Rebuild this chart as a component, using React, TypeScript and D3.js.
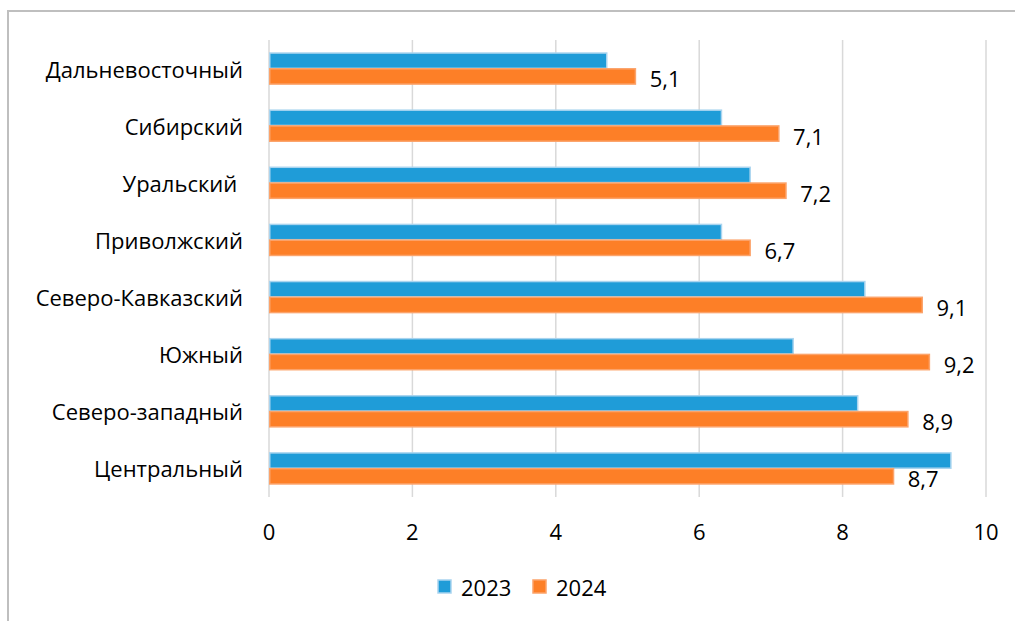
import React from "react";
import * as d3 from "d3";

const categories = [
  "Дальневосточный",
  "Сибирский",
  "Уральский ",
  "Приволжский",
  "Северо-Кавказский",
  "Южный",
  "Северо-западный",
  "Центральный",
];
const series = ["2023", "2024"];
const values2023 = [4.7, 6.3, 6.7, 6.3, 8.3, 7.3, 8.2, 9.5];
const values2024 = [5.1, 7.1, 7.2, 6.7, 9.1, 9.2, 8.9, 8.7];
const xTicks = [0, 2, 4, 6, 8, 10];

const colors = { "2023": "#1f9cd8", "2024": "#fd7f27" };
const strokes = { "2023": "#a9d4ef", "2024": "#fca36a" };

export default function App() {
  const W = 1015, H = 621;
  const left = 269, right = 986, top = 40, bottom = 497;
  const x = d3.scaleLinear().domain([0, 10]).range([left, right]);
  const y = d3.scaleBand<string>().domain(categories).range([top, bottom]).paddingInner(0.44).paddingOuter(0.22);
  const sub = d3.scaleBand<string>().domain(series).range([0, y.bandwidth()]).padding(0.03);
  const font = "'Open Sans', sans-serif";
  const fs = 22;
  const data = [values2023, values2024];
  return (
    <svg width={W} height={H} style={{ position: "absolute", left: 0, top: 0, background: "#fff" }}>
      <rect x={0} y={0} width={W} height={H} fill="#fff" />
      <path d={`M8,${H} V11 H${W}`} fill="none" stroke="#bfbfbf" strokeWidth={2} />
      {xTicks.map((t) => (
        <line key={t} x1={x(t)} x2={x(t)} y1={top} y2={bottom} stroke="#d9d9d9" strokeWidth={1.5} />
      ))}
      {categories.map((c, i) =>
        series.map((s, j) => {
          const v = data[j][i];
          return (
            <rect
              key={c + s}
              x={x(0) + 0.75}
              y={(y(c) ?? 0) + (sub(s) ?? 0)}
              width={x(v) - x(0)}
              height={sub.bandwidth()}
              fill={(colors as any)[s]}
              stroke={(strokes as any)[s]}
              strokeWidth={1.5}
            />
          );
        })
      )}
      {categories.map((c, i) => (
        <text
          key={c}
          x={243}
          y={(y(c) ?? 0) + y.bandwidth() / 2}
          textAnchor="end"
          dominantBaseline="central"
          fontFamily={font}
          fontSize={fs}
          fill="#000"
          style={{ whiteSpace: "pre" }}
          xmlSpace="preserve"
        >
          {c}
        </text>
      ))}
      {categories.map((c, i) => (
        <text
          key={c + "lbl"}
          x={x(values2024[i]) + 15}
          y={(y(c) ?? 0) + (sub("2024") ?? 0) + sub.bandwidth() / 2 + 2}
          dominantBaseline="central"
          fontFamily={font}
          fontSize={fs}
          fill="#000"
        >
          {values2024[i].toString().replace(".", ",")}
        </text>
      ))}
      {xTicks.map((t) => (
        <text key={"t" + t} x={x(t)} y={531} textAnchor="middle" dominantBaseline="central" fontFamily={font} fontSize={fs} fill="#000">
          {t}
        </text>
      ))}
      {series.map((s, j) => {
        const lx = j === 0 ? 438 : 533;
        return (
          <g key={"lg" + s}>
            <rect x={lx} y={580} width={13} height={13} fill={(colors as any)[s]} stroke={(strokes as any)[s]} strokeWidth={1.5} />
            <text x={lx + 23} y={587} dominantBaseline="central" fontFamily={font} fontSize={fs} fill="#000">
              {s}
            </text>
          </g>
        );
      })}
    </svg>
  );
}
